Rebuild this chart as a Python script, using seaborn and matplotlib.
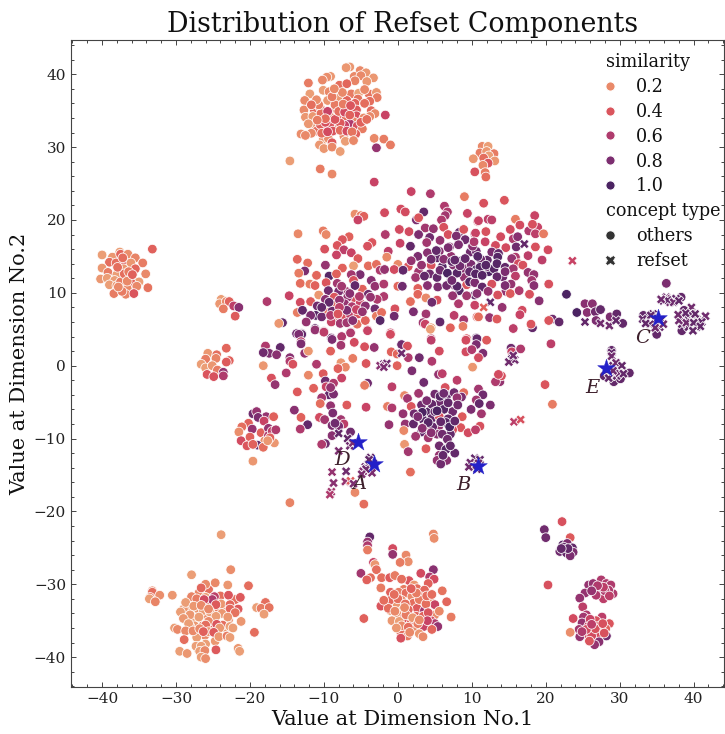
import pandas as pd
import seaborn as sns
import matplotlib.pyplot as plt
from matplotlib.colors import Normalize
from matplotlib.lines import Line2D
from matplotlib.ticker import AutoMinorLocator

# (dim1, dim2, similarity), one list per region
top_cluster = [
    (-6.5,41.0,.15),(-7.0,40.9,.15),(-5.1,40.5,.2),(-4.3,40.2,.15),(-5.9,39.7,.2),(-5.0,39.8,.2),(-3.3,39.5,.15),
    (-4.2,39.0,.15),(-5.8,39.1,.22),(-9.1,39.7,.15),(-9.6,39.6,.18),(-10.2,39.2,.2),(-12.1,38.8,.25),(-7.9,38.5,.3),
    (-6.9,38.7,.33),(-11.9,37.3,.12),(-10.1,37.8,.12),(-9.3,37.6,.2),(-12.6,36.4,.2),(-6.3,37.3,.25),(-5.3,37.4,.1),
    (-3.9,37.3,.28),(-2.9,37.5,.15),(-2.8,36.8,.25),(-8.0,36.7,.15),(-9.5,36.4,.15),(-6.9,36.4,.33),(-5.4,36.6,.28),
    (-3.8,36.3,.3),(-5.8,36.0,.35),(-4.5,36.0,.3),(-12.7,35.1,.2),(-11.3,35.1,.33),(-10.5,35.4,.3),(-8.3,35.2,.2),
    (-6.8,35.1,.22),(-5.6,35.1,.38),(-3.6,35.0,.32),(-3.1,34.6,.2),(-3.8,34.2,.2),(-1.7,34.4,.5),(-12.5,34.1,.15),
    (-11.5,34.2,.15),(-10.4,34.6,.3),(-9.1,34.1,.2),(-7.9,34.2,.35),(-5.6,34.3,.42),(-7.0,33.9,.3),(-6.0,33.5,.2),
    (-6.5,33.2,.6),(-7.2,33.0,.5),(-5.5,32.9,.42),(-4.8,32.5,.25),(-11.5,33.0,.15),(-10.1,32.7,.35),(-8.3,32.4,.28),
    (-9.2,33.0,.4),(-11.0,32.2,.3),(-11.7,31.9,.2),(-13.1,31.8,.18),(-12.5,31.6,.2),(-7.3,31.5,.2),(-5.7,31.8,.35),
    (-10.1,31.0,.15),(-9.4,31.2,.18),(-8.9,30.6,.38),(-10.6,30.3,.15),(-10.0,29.8,.15),(-8.9,30.0,.2),(-7.1,30.8,.12),
    (-3.2,31.2,.2),(-1.9,31.1,.25),(-1.0,30.3,.25),(-2.9,29.9,.7),(-7.8,29.4,.12),(-10.5,33.1,.35),(-9.8,33.4,.42),
    (-7.8,33.3,.38),(-8.5,35.8,.25),(-10.7,35.8,.25),(-9.5,34.9,.5),(-14.6,28.1,.12),(-10.5,27.0,.25),(-8.9,26.3,.2),
    (-3.2,25.2,.5),
]
top_dense = [
    (-8.5,33.8,.4),(-8.0,34.9,.3),(-7.2,34.8,.45),(-6.5,34.4,.35),(-9.8,33.9,.3),(-10.9,33.7,.25),(-8.8,32.2,.4),
    (-7.8,32.3,.3),(-6.9,32.2,.45),(-6.2,32.1,.28),(-10.3,31.9,.3),(-9.5,32.1,.45),(-4.6,34.0,.2),(-5.0,33.4,.35),
    (-4.2,33.8,.3),(-7.4,35.9,.25),(-6.4,35.7,.4),(-8.9,36.9,.25),(-4.5,37.9,.2),(-7.5,37.5,.2),(-8.6,38.0,.2),
    (-11.0,36.5,.18),(-11.7,35.8,.3),(-12.1,33.2,.15),(-6.0,30.9,.2),
]
top_right_cluster = [
    (11.4,30.1,.2),(12.2,30.1,.12),(11.1,29.2,.25),(12.0,29.4,.15),(13.0,29.1,.25),(10.2,28.4,.15),(12.3,28.8,.12),
    (11.6,28.5,.3),(13.1,28.1,.15),(12.2,27.8,.4),(11.5,27.5,.2),(10.4,26.6,.42),(11.8,26.5,.25),(11.9,25.9,.3),
]
left_cluster = [
    (-33.2,16.0,.35),(-37.6,15.6,.12),(-40.0,15.2,.12),(-38.6,14.9,.15),(-37.5,15.3,.33),(-36.5,15.3,.18),(-35.5,14.8,.22),
    (-34.5,14.1,.25),(-37.0,14.2,.38),(-39.0,14.2,.3),(-38.1,14.1,.3),(-36.1,14.1,.15),(-40.0,13.4,.15),(-39.2,12.8,.25),
    (-37.1,13.3,.15),(-35.5,13.3,.33),(-38.0,12.5,.12),(-34.1,12.6,.2),(-36.1,11.9,.33),(-40.2,11.9,.15),(-39.3,12.0,.12),
    (-38.3,11.7,.12),(-35.0,11.5,.12),(-36.0,11.3,.33),(-39.0,11.1,.12),(-38.0,11.0,.15),(-33.8,10.7,.28),(-36.6,10.6,.2),
    (-35.3,10.9,.2),(-38.4,9.9,.25),(-36.8,9.8,.22),(-35.7,9.9,.4),(-37.3,10.2,.25),(-37.5,11.5,.25),(-37.0,12.6,.3),
    (-36.4,12.9,.25),(-37.9,13.5,.3),(-36.6,11.6,.2),(-37.8,10.8,.2),(-35.9,12.5,.35),(-37.2,14.8,.3),
]
small_left = [
    (-23.9,9.1,.12),(-24.1,8.5,.15),(-23.2,8.8,.2),(-22.8,8.8,.35),(-23.6,7.8,.25),(-22.2,8.2,.55),(-21.5,8.0,.75),
    (-22.0,6.8,.38),(-17.7,8.8,.6),(-23.2,2.4,.33),(-25.7,1.7,.15),(-26.0,0.9,.25),(-24.5,1.5,.3),(-24.6,1.0,.22),
    (-22.8,0.7,.35),(-23.2,0.5,.38),(-26.6,0.2,.12),(-26.0,-0.3,.12),(-25.1,0.0,.15),(-24.4,-0.6,.25),(-25.8,-1.2,.4),
    (-24.9,-1.5,.42),(-23.6,-0.9,.7),(-23.6,-1.4,.6),
]
mid_left_cluster = [
    (-19.6,-6.6,.85),(-19.1,-6.3,.7),(-17.8,-7.0,.7),(-20.2,-7.9,.35),(-18.9,-7.1,.8),(-21.1,-8.4,.3),(-18.1,-7.6,.5),
    (-21.5,-9.1,.18),(-18.5,-9.2,.35),(-19.7,-8.7,.7),(-17.5,-8.6,.7),(-21.2,-10.3,.45),(-20.0,-9.8,.35),(-18.0,-10.3,.18),
    (-20.4,-11.0,.4),(-19.0,-10.9,.9),(-19.6,-10.8,.35),(-17.5,-9.6,.6),(-19.6,-13.1,.15),(-18.2,-11.2,.3),(-17.0,-9.0,.55),
    (-16.7,-10.6,.15),(-16.8,-7.0,.35),(-16.5,-8.8,.6),(-17.3,-9.9,.35),(-17.6,-10.3,.15),
]
bottom_left_dense = [
    (-27.0,-33.4,.15),(-25.9,-34.3,.18),(-25.0,-34.9,.25),(-27.5,-34.9,.12),(-26.4,-35.7,.2),(-24.9,-35.6,.25),(-23.5,-33.2,.2),
    (-22.9,-34.9,.18),(-28.3,-33.3,.12),(-25.3,-32.9,.3),(-24.4,-33.3,.25),(-27.5,-35.7,.15),(-25.3,-36.2,.3),(-26.1,-37.0,.2),
    (-24.7,-37.8,.15),(-27.2,-37.3,.12),(-23.5,-35.9,.15),(-29.0,-33.4,.15),(-26.3,-33.6,.12),(-24.0,-31.6,.3),(-26.9,-31.2,.2),
    (-25.6,-30.7,.3),(-22.0,-32.1,.3),(-28.1,-35.8,.15),(-26.5,-39.6,.12),(-27.0,-38.9,.12),
]
bottom_left_cluster = [
    (-23.9,-23.2,.12),(-22.6,-28.0,.18),(-27.9,-28.7,.12),(-26.0,-30.0,.2),(-24.7,-29.8,.2),(-26.6,-30.5,.33),(-23.0,-30.1,.15),
    (-20.2,-30.2,.3),(-33.2,-30.9,.2),(-33.2,-31.1,.3),(-33.5,-31.8,.28),(-33.6,-32.0,.12),(-32.2,-31.5,.18),(-32.8,-32.4,.22),
    (-30.5,-31.5,.15),(-27.9,-31.7,.22),(-26.0,-31.8,.12),(-27.2,-32.0,.25),(-24.8,-31.7,.55),(-25.1,-32.1,.6),(-26.2,-32.1,.45),
    (-22.9,-31.5,.4),(-21.3,-31.8,.38),(-28.7,-32.5,.12),(-23.9,-32.7,.15),(-22.7,-32.8,.33),(-24.6,-32.8,.38),(-17.9,-32.5,.3),
    (-27.6,-33.0,.15),(-26.6,-32.9,.2),(-19.1,-33.2,.12),(-18.5,-33.3,.25),(-17.4,-33.2,.28),(-21.6,-33.4,.38),(-22.7,-33.4,.33),
    (-22.0,-33.9,.28),(-18.1,-34.1,.12),(-29.4,-33.8,.12),(-25.4,-33.8,.12),(-23.8,-34.0,.15),(-25.6,-33.4,.2),(-28.1,-34.2,.15),
    (-26.9,-34.5,.12),(-24.6,-34.4,.12),(-23.0,-34.5,.15),(-29.0,-34.7,.15),(-21.2,-35.1,.15),(-28.3,-35.4,.12),(-25.6,-35.1,.2),
    (-26.0,-35.6,.3),(-23.7,-35.6,.3),(-24.5,-35.5,.4),(-30.2,-36.0,.12),(-29.8,-36.2,.2),(-28.7,-36.4,.2),(-27.7,-36.4,.2),
    (-26.8,-36.1,.2),(-25.6,-36.5,.15),(-24.1,-36.0,.15),(-22.7,-35.8,.12),(-22.3,-36.0,.12),(-24.9,-36.6,.38),(-26.3,-36.5,.35),
    (-19.4,-36.6,.3),(-24.2,-37.2,.15),(-23.1,-37.1,.25),(-22.7,-37.3,.12),(-28.9,-37.6,.3),(-27.3,-38.5,.12),(-26.0,-38.2,.12),
    (-26.6,-38.5,.12),(-21.6,-38.8,.15),(-21.4,-39.2,.12),(-24.6,-39.0,.38),(-29.5,-39.2,.12),(-28.5,-39.5,.15),(-26.8,-39.2,.12),
    (-26.1,-39.1,.2),(-26.6,-40.0,.12),(-26.0,-40.2,.18),
]
bottom_mid_cluster = [
    (-3.8,-23.5,.9),(-4.1,-24.2,.7),(-4.1,-24.7,.6),(-4.1,-25.3,.25),(4.8,-23.1,.2),(4.9,-23.7,.18),(-0.7,-25.1,.45),
    (-0.7,-25.9,.7),(1.1,-26.0,.2),(1.4,-26.9,.18),(0.3,-27.0,.25),(-3.3,-27.0,.5),(-3.1,-27.3,.15),(-2.9,-28.0,.3),
    (-5.0,-28.5,.65),(3.1,-28.5,.45),(4.8,-28.0,.75),(-3.7,-29.1,.3),(-4.2,-29.4,.35),(-2.2,-29.1,.3),(-1.1,-29.1,.38),
    (-0.4,-28.8,.25),(4.3,-29.0,.6),(4.9,-29.3,.45),(1.5,-29.5,.4),(4.1,-29.9,.35),(2.2,-30.1,.15),(2.6,-30.6,.3),
    (3.6,-30.8,.33),(6.0,-30.9,.28),(-2.3,-30.5,.25),(-1.0,-31.1,.35),(0.8,-30.7,.25),(0.1,-31.1,.25),(1.1,-31.2,.3),
    (1.9,-31.7,.2),(3.1,-31.7,.28),(-1.0,-32.2,.33),(0.5,-32.2,.2),(4.3,-32.2,.15),(6.6,-32.4,.33),(-2.3,-33.0,.4),
    (-0.1,-33.0,.15),(2.1,-32.6,.3),(5.0,-32.8,.5),(-1.0,-33.6,.15),(2.6,-33.3,.38),(1.4,-33.5,.33),(3.6,-33.6,.65),
    (0.6,-33.6,.15),(-1.3,-33.3,.3),(-0.1,-34.1,.15),(5.0,-34.2,.2),(-4.6,-34.7,.35),(-0.8,-35.0,.15),(2.5,-34.4,.33),
    (7.2,-34.5,.25),(0.8,-34.7,.4),(0.2,-35.1,.12),(1.8,-35.3,.35),(3.1,-35.4,.35),(4.5,-35.0,.45),(5.0,-35.4,.6),
    (5.4,-35.8,.7),(3.5,-35.8,.5),(2.2,-36.1,.2),(4.6,-36.2,.33),(0.4,-36.6,.3),(1.3,-37.1,.25),(2.9,-36.8,.15),
    (3.4,-37.2,.2),(0.4,-37.4,.42),
]
bottom_mid_dense = [
    (0.0,-32.0,.3),(1.0,-32.7,.3),(2.9,-32.1,.25),(3.8,-32.7,.3),(-0.4,-33.7,.2),(1.1,-34.2,.25),(2.0,-34.6,.15),(3.4,-34.4,.35),
    (4.1,-33.9,.4),(0.5,-35.7,.2),(1.4,-35.9,.3),(2.7,-35.4,.25),(4.0,-35.0,.5),(-1.9,-32.2,.3),(-0.5,-31.4,.3),(2.5,-31.2,.25),
    (3.9,-31.6,.3),(0.9,-33.2,.2),(2.9,-34.9,.2),(1.6,-36.6,.2),(-0.2,-36.0,.15),(5.6,-33.7,.2),(4.6,-31.4,.3),(1.8,-30.6,.35),
    (0.5,-29.3,.3),
]
bottom_right_cluster = [
    (19.8,-22.5,.85),(20.0,-23.6,.85),(22.2,-21.4,.42),(23.3,-23.6,.38),(22.3,-24.6,.95),(22.9,-24.4,.8),(21.9,-25.5,.85),
    (23.6,-25.0,.9),(22.8,-25.7,.9),(23.7,-25.6,.8),(23.3,-26.1,.8),(22.4,-24.9,.9),(20.3,-30.1,.42),(25.8,-30.1,.7),
    (27.5,-29.4,.6),(26.4,-29.9,.7),(28.2,-29.9,.6),(28.8,-30.1,.6),(25.3,-31.2,.7),(24.6,-31.9,.7),(26.9,-30.8,.7),
    (27.5,-30.8,.55),(28.2,-31.5,.55),(29.1,-31.3,.6),(27.1,-31.5,.65),(27.8,-32.0,.55),(28.5,-30.8,.6),(25.0,-33.1,.55),
    (25.5,-34.2,.6),(23.7,-34.7,.45),(25.1,-34.5,.65),(27.6,-34.5,.55),(26.8,-35.0,.42),(24.9,-35.3,.7),(28.6,-35.4,.4),
    (25.8,-35.7,.5),(27.0,-35.8,.42),(28.1,-36.1,.35),(24.5,-36.2,.65),(23.3,-36.6,.18),(25.3,-36.8,.45),(27.2,-36.8,.45),
    (26.2,-37.1,.45),(28.2,-37.1,.85),(24.6,-37.2,.7),(27.2,-37.9,.75),(26.6,-38.3,.7),(26.0,-34.8,.5),(26.7,-36.1,.42),
    (25.5,-36.2,.45),(27.7,-35.4,.42),(24.9,-36.5,.6),(26.2,-35.5,.55),(25.9,-37.8,.4),(27.9,-36.7,.42),(28.0,-30.9,.6),
    (27.8,-30.4,.55),(26.8,-31.5,.6),(27.0,-30.2,.6),(28.6,-31.6,.55),(26.2,-30.9,.7),(23.0,-25.1,.9),(22.1,-25.1,.9),
]
center_upper_left = [
    (1.8,23.9,.5),(4.4,23.6,.6),(9.0,23.2,.25),(6.3,21.9,.6),(-1.8,21.0,.45),(0.4,21.5,.45),(1.0,21.1,.45),(3.5,21.1,.9),
    (2.5,20.0,.8),(2.8,20.3,.4),(-5.8,20.8,.18),(-5.0,20.6,.25),(-4.6,20.5,.35),(-5.4,20.0,.5),(9.4,20.9,.5),(6.7,21.1,.6),
    (6.4,20.6,.65),(5.9,20.0,.6),(10.8,19.8,.45),(-13.5,18.1,.2),(-10.1,18.5,.25),(-9.7,18.0,.2),(3.7,18.9,.65),(4.8,18.8,.7),
    (6.2,19.0,.42),(0.2,18.7,.45),(1.5,18.4,.45),(2.8,18.0,.8),(4.3,17.6,.85),(6.8,18.0,.42),(8.3,18.3,.9),(8.9,18.7,.4),
    (10.4,18.1,.6),(-1.7,18.0,.6),(-6.6,17.7,.35),(-7.5,17.3,.4),(-3.5,16.9,.4),(-8.2,16.5,.4),(-4.1,16.4,.42),(0.3,16.8,.5),
    (1.7,16.4,.9),(3.9,16.9,.65),(5.7,17.2,.7),(9.1,17.3,.85),(8.2,16.7,.7),(7.0,16.3,.75),(-9.9,16.0,.42),(-7.3,15.9,.55),
    (-6.3,15.5,.5),(-1.3,15.7,.55),(2.7,15.0,.8),(4.0,15.5,.75),(5.6,15.7,.75),(9.8,15.6,.85),(10.6,15.7,.85),(-8.3,15.2,.5),
    (-5.4,14.7,.38),(-1.5,14.9,.2),(-13.6,14.6,.33),(5.3,14.8,.9),(7.2,15.0,.7),(8.6,14.4,.95),(-12.2,14.1,.3),(-6.0,13.7,.12),
    (-4.0,13.7,.3),(0.0,13.9,.2),(-9.8,13.8,.7),(1.4,13.6,.4),(4.5,13.8,.42),(6.0,13.6,.95),(7.5,13.8,.75),(-12.6,13.0,.8),
    (-7.5,13.4,.35),(-2.9,13.9,.3),(-2.4,13.1,.6),(-1.8,13.2,.7),(-0.5,13.2,.45),(0.7,13.1,.9),(2.8,12.9,.65),(4.3,12.6,.85),
    (9.0,13.3,.75),(-13.4,12.7,.25),(-11.0,12.4,.33),(-9.3,12.3,.95),(-5.1,12.5,.8),(-8.3,12.6,.35),(-6.3,12.5,.65),(2.4,12.1,.65),
    (5.3,12.1,.9),(7.2,11.8,.95),(10.9,12.5,.85),(9.0,12.1,.7),(-13.2,11.3,.3),(-11.9,11.2,.25),(-11.2,11.0,.35),(-9.7,11.4,.4),
    (-8.2,11.3,.65),(-6.0,11.7,.42),(-3.6,11.7,.75),(-3.1,10.9,.7),(-1.9,11.2,.6),(0.0,10.9,.33),(0.6,10.9,.85),(7.7,11.0,.8),
    (9.3,11.1,.4),(4.0,11.0,.75),(5.4,10.8,.8),(-4.8,10.5,.35),(-7.0,10.2,.65),(-8.0,10.2,.8),(-9.4,10.3,.85),(-5.8,11.0,.9),
    (-14.7,9.6,.5),(-10.7,9.7,.15),(-8.6,9.4,.4),(-4.0,9.8,.85),(-5.9,9.3,.42),(-6.8,9.4,.7),(-1.9,9.5,.6),(2.7,10.6,.35),
    (2.7,9.8,.33),(3.8,9.3,.2),(5.3,9.0,.42),(7.5,9.6,.75),(8.3,10.3,.95),(10.4,9.7,.9),(-13.2,8.7,.45),(-11.8,8.8,.38),
    (-10.9,8.2,.85),(-7.2,8.5,.7),(-5.1,8.6,.5),(-2.8,9.1,.6),(1.7,8.8,.3),(4.6,8.7,.85),(8.2,8.5,.6),(-13.6,7.3,.25),
    (-12.9,7.6,.9),(-9.5,7.3,.3),(-8.6,8.3,.35),(-3.1,7.8,.85),(-0.4,7.8,.42),(-11.1,6.9,.95),(-11.8,6.9,.8),(-10.3,6.7,.85),
    (-8.3,6.9,.42),(-7.4,6.8,.42),(-6.4,6.9,.55),(-5.4,7.1,.4),(-2.9,6.8,.25),(-2.2,7.3,.3),(-0.5,6.8,.85),(2.1,7.4,.8),
    (3.8,7.1,.65),(7.6,6.9,.55),(8.9,6.3,.65),(10.7,6.7,.38),(-12.4,6.0,.7),(-9.0,6.0,.5),(-7.8,5.8,.65),(-6.9,5.9,.65),
    (-5.5,5.7,.3),(-4.4,6.2,.35),(-2.4,6.2,.95),(-15.6,5.9,.9),(-16.1,5.8,.15),(3.4,5.9,.65),(3.7,5.7,.5),(5.7,6.0,.9),
    (8.8,5.4,.25),(-11.2,5.1,.9),(-10.0,4.7,.55),(-6.4,4.6,.6),(-4.1,4.9,.5),(-1.0,4.5,.5),(4.5,5.2,.12),(7.1,5.2,.35),
    (-13.7,4.4,.85),(-13.0,4.4,.95),(-9.0,3.8,.85),(-7.6,3.9,.6),(4.5,3.7,.55),(10.6,3.8,.9),(9.3,3.7,.42),
]
center_upper_dense = [
    (-7.9,9.0,.7),(-6.2,8.1,.6),(-5.6,7.7,.5),(-8.9,7.5,.85),(-9.8,9.1,.75),(-7.6,10.9,.65),(-6.9,7.6,.8),(-4.4,8.2,.75),
    (-9.1,6.9,.6),(-4.8,7.4,.7),(-7.9,8.0,.55),(-6.5,9.9,.75),(-8.1,7.1,.4),(-9.3,8.7,.9),(-10.3,8.0,.9),(-5.2,9.5,.6),
    (-3.7,9.4,.7),(-6.1,6.2,.75),(5.7,13.1,.85),(6.7,12.7,1.0),(8.0,12.7,.95),(8.4,13.7,.85),(9.9,13.9,.8),(10.6,13.2,.95),
    (12.3,12.9,1.0),(12.1,13.6,.85),(9.7,12.9,.9),(12.1,14.5,.9),(11.2,14.6,.85),(13.0,13.3,.95),(9.7,11.5,.95),(10.4,11.4,.8),
    (8.0,10.9,.95),(6.6,11.0,.85),(6.2,14.6,.75),(7.3,14.3,.9),(5.2,15.8,.9),(4.5,14.6,.85),(3.2,13.8,.7),(3.6,12.3,.9),
    (1.8,14.4,.7),(6.8,16.2,.8),(7.9,17.8,.8),(10.1,16.4,.75),(10.8,15.0,.95),(9.1,14.7,.9),(14.2,12.2,.85),(14.6,10.2,.7),
]
center_upper_right = [
    (11.6,22.3,.42),(14.4,22.7,.4),(12.2,20.1,.55),(12.7,20.0,.55),(10.9,19.9,.5),(18.5,20.6,.5),(15.9,20.1,.25),(16.5,19.3,.45),
    (15.2,18.7,.45),(17.7,18.5,.6),(18.9,19.0,.5),(18.2,19.4,.42),(18.6,18.1,.55),(19.7,18.1,.25),(10.5,18.2,.5),(11.9,18.4,.42),
    (13.9,17.7,.45),(15.6,17.4,.6),(16.2,17.7,.75),(8.2,16.6,.8),(10.3,17.0,.6),(11.8,17.0,.5),(13.2,16.5,.45),(14.6,16.2,.45),
    (16.0,16.3,.85),(18.6,16.3,.42),(20.3,15.9,.45),(12.7,15.6,.8),(13.6,15.4,.9),(17.6,15.1,.55),(15.9,14.9,.6),(19.5,14.5,.55),
    (13.5,14.9,.95),(15.4,14.7,.7),(16.3,14.0,.45),(7.7,14.5,.9),(11.1,13.5,.95),(11.9,13.8,.95),(13.4,14.0,.95),(14.5,13.5,.9),
    (15.6,13.3,.65),(16.9,13.8,.42),(10.5,12.6,.95),(11.4,12.4,.95),(13.4,12.2,.9),(14.5,12.9,.8),(15.9,12.3,.55),(17.6,12.8,.7),
    (18.4,12.5,.7),(7.3,11.7,.85),(12.7,11.2,.42),(11.4,10.8,.9),(15.3,11.2,.7),(18.1,11.7,.65),(18.4,11.0,.75),(20.4,11.2,.42),
    (7.4,9.6,.7),(9.3,9.6,.65),(10.7,9.9,.75),(12.2,10.2,.7),(13.5,9.7,.42),(14.5,11.0,.8),(15.2,9.9,.38),(16.4,10.3,.6),
    (17.8,9.8,.42),(22.8,9.8,1.0),(10.4,8.3,.5),(14.1,8.0,.7),(19.1,8.9,.75),(16.8,7.6,.45),(16.5,7.0,.5),(10.9,6.7,.3),
    (12.4,6.6,.7),(13.4,6.4,.38),(20.9,6.4,.85),(21.8,6.0,.9),(20.4,6.2,.4),(15.6,5.1,.55),(18.2,5.2,.9),(18.0,5.7,.4),
    (24.2,7.3,1.0),(25.3,8.5,.75),(26.3,8.5,.75),(25.6,7.3,.75),(26.7,7.4,.85),(27.4,7.7,.9),(26.8,6.2,.8),(28.7,6.7,.8),
    (29.6,7.1,.9),(30.4,5.8,.9),(36.3,11.3,.8),(33.2,6.9,.9),(35.0,4.3,.9),(38.3,9.4,.9),(38.7,7.6,.9),(38.4,4.8,.9),
    (28.9,2.1,.9),(27.9,-1.4,.9),(29.2,-2.2,.9),(31.3,-1.0,.9),(30.1,-1.8,.9),(15.3,2.4,.85),(15.4,1.9,.5),(16.6,2.3,.6),
    (20.7,3.0,.55),(19.9,-2.6,.4),(20.9,-5.3,.25),(13.8,-2.2,.7),(14.0,-1.4,.42),
]
center_lower = [
    (-17.9,2.7,.6),(-15.9,2.5,.9),(-17.4,1.7,.8),(-18.2,1.8,.85),(-16.4,1.5,.75),(-14.6,1.1,.75),(-14.6,0.6,.6),(-14.2,0.2,.42),
    (-18.2,0.0,.15),(-15.1,-1.0,.6),(-17.1,-1.7,.42),(-16.6,-2.6,.7),(-12.1,-1.3,.2),(-13.6,-3.6,.38),(-11.4,-3.1,.35),(-13.0,4.3,.9),
    (-13.4,4.3,.8),(-13.1,3.3,.55),(-13.1,3.0,.8),(-11.2,4.9,.7),(-10.0,4.6,.55),(-8.9,3.6,.8),(-7.6,4.0,.6),(-7.7,2.8,.65),
    (-6.4,4.5,.6),(-5.9,3.2,.45),(-4.1,4.8,.5),(-4.5,2.6,.42),(-3.2,2.5,.7),(-12.6,1.7,.7),(-12.1,2.0,.15),(-9.1,2.0,.35),
    (-11.0,0.2,.6),(-6.1,1.0,.25),(-7.7,0.4,.15),(-7.1,-0.2,.2),(-8.1,-0.4,.35),(-4.3,0.3,.4),(-10.1,-1.1,.38),(-7.6,-1.7,.5),
    (-9.8,-2.1,.85),(-8.7,-2.4,.6),(-9.7,-2.9,.5),(-4.1,-2.4,.85),(-4.5,-2.7,.25),(-1.0,4.3,.45),(0.5,2.9,.85),(1.3,2.7,.42),
    (-0.9,1.9,.35),(-0.1,1.6,.33),(1.4,1.1,.6),(2.9,1.1,.85),(-0.1,0.0,.35),(1.9,-0.7,.8),(4.6,0.6,.6),(4.5,3.5,.55),
    (5.6,2.0,.45),(4.4,5.0,.12),(9.2,3.5,.45),(10.7,3.7,.9),(12.0,3.5,.38),(10.6,2.9,.8),(9.2,1.9,.45),(10.0,2.2,.6),
    (11.5,1.7,.8),(10.9,1.1,.45),(10.1,-0.2,.15),(5.5,-1.2,.7),(6.0,-1.1,.55),(3.5,-2.3,.85),(8.0,-2.0,.55),(13.2,-2.2,.6),
    (13.6,-1.2,.45),(-0.8,-2.9,.55),(0.9,-4.1,.2),(1.3,-4.5,.65),(2.8,-3.8,.65),(5.0,-3.9,.85),(6.4,-3.0,.42),(6.6,-4.1,.9),
    (7.6,-3.7,.85),(8.9,-3.7,.3),(8.6,-4.3,.8),(8.0,-4.4,.7),(10.9,-3.2,.65),(11.5,-4.0,.85),(10.6,-4.7,.65),(11.0,-5.2,.9),
    (9.9,-6.0,.8),(12.5,-5.4,.8),(11.3,-6.6,.65),(3.2,-5.4,.85),(1.8,-5.6,.4),(0.7,-6.6,.7),(4.2,-6.3,.95),(5.7,-5.0,.85),
    (7.4,-6.3,.85),(4.6,-5.3,.9),(6.2,-6.0,.95),(3.4,-7.4,.95),(4.6,-7.2,.9),(5.6,-7.0,.42),(6.8,-7.3,.9),(8.7,-7.0,.38),
    (1.0,-8.0,.7),(2.1,-8.0,.9),(3.6,-8.4,.45),(5.5,-8.4,.7),(6.5,-7.8,.95),(8.5,-8.5,.4),(11.1,-8.3,.42),(7.4,-8.8,.42),
    (-1.2,-8.1,.7),(0.8,-8.9,.2),(3.2,-9.1,.9),(2.4,-9.7,.65),(4.1,-9.9,.65),(5.3,-9.4,.75),(7.1,-9.4,.9),(9.5,-9.2,.45),
    (10.5,-8.8,.55),(0.9,-10.8,.15),(5.6,-11.0,.85),(6.5,-11.5,.95),(3.8,-11.4,.38),(1.4,-11.8,.65),(7.7,-12.0,.9),(5.6,-12.3,.7),
    (6.6,-13.0,.75),(5.3,-13.0,.7),(5.8,-13.5,.85),(1.7,-14.6,.3),(-1.4,-5.6,.25),(-0.8,-5.8,.6),(-4.3,-5.7,.5),(-9.3,-4.0,.9),
    (-10.3,-4.4,.65),(-10.5,-5.2,.3),(-9.1,-5.5,.7),(-8.7,-3.9,.8),(-6.9,-5.4,.38),(-14.0,-6.1,.75),(-8.8,-6.5,.8),(-13.1,-7.1,.35),
    (-10.6,-7.1,.45),(-9.9,-7.4,.65),(-7.7,-7.4,.65),(-8.9,-8.2,.8),(-12.2,-8.1,.9),(-13.2,-8.7,.6),(-7.3,-8.0,.55),(-8.0,-8.3,.8),
    (-6.4,-9.1,.85),(-8.9,-9.6,.75),(-9.8,-10.7,.85),(-10.3,-10.8,.6),(-5.8,-17.4,.2),(-14.6,-18.8,.22),(-4.6,-19.0,.3),
]
center_lower_dense = [
    (3.3,-6.4,1.0),(5.0,-6.3,.9),(6.8,-5.1,.9),(3.9,-4.8,.8),(5.7,-4.2,.95),(2.2,-6.6,.85),(7.0,-8.4,1.0),(4.7,-8.4,.9),
    (6.0,-9.4,.85),(4.1,-7.8,.95),(5.3,-6.2,1.0),(2.7,-7.0,.8),(7.7,-7.6,.9),(6.7,-10.1,.85),(5.8,-7.7,.9),(7.1,-11.0,.9),
    (6.1,-12.3,.9),(8.1,-5.4,.85),(3.3,-8.6,.75),(6.2,-3.8,.85),(4.5,-9.2,.75),(-8.5,-7.9,.85),(-9.1,-3.0,.7),
]
refset_points = [
    (17.1,16.7,.9),(23.6,14.4,.5),(12.5,8.7,.9),(11.6,8.0,.35),(25.3,6.0,.9),(27.4,5.8,.85),(28.6,5.5,.85),(29.5,6.2,.9),
    (33.1,6.4,.9),(34.5,7.1,.9),(34.9,6.2,.9),(35.4,5.3,.9),(34.1,5.7,.9),(35.9,8.9,.9),(36.3,9.4,.85),(37.0,9.2,.8),
    (37.6,9.2,.9),(36.8,8.7,.85),(39.7,8.0,.85),(38.6,6.6,.9),(39.3,6.4,.9),(40.4,6.4,.9),(41.6,6.8,.85),(38.4,5.7,.9),
    (39.3,5.3,.9),(40.4,5.3,.9),(41.1,6.0,.9),(39.7,7.1,.9),(28.9,1.8,.9),(28.9,1.3,.85),(29.4,-0.2,.85),(30.0,-0.5,.85),
    (28.9,-1.2,.9),(29.6,-1.4,.9),(29.1,0.0,.9),(15.4,0.9,.95),(15.8,0.8,.85),(15.7,-7.7,.55),(16.6,-7.4,.42),(0.5,1.7,.85),
    (-1.9,0.2,.85),(-1.5,0.3,.85),(-2.4,0.0,.75),(10.4,-12.7,.9),(11.1,-12.9,.9),(10.0,-13.5,.9),(10.7,-14.2,.9),(9.8,-13.3,.85),
    (-8.0,-9.3,.9),(-6.8,-10.0,.9),(-6.5,-11.0,.85),(-6.1,-10.6,.8),(-8.0,-11.7,.8),(-8.9,-14.6,.7),(-7.0,-14.5,.85),(-8.7,-16.1,.75),
    (-7.1,-15.9,.7),(-6.4,-15.8,.38),(-9.0,-17.3,.65),(-9.2,-17.7,.6),(-6.0,-16.2,.8),(-3.7,-12.6,.9),(-4.4,-13.9,.85),(-3.5,-14.7,.8),
    (-4.0,-13.5,.85),(-4.7,-14.5,.75),(34.2,6.9,.9),(35.6,6.3,.9),(34.8,5.2,.85),(33.5,5.8,.9),(35.9,5.7,.85),(36.5,9.0,.9),
    (37.3,8.7,.85),(38.0,8.9,.9),(35.6,9.1,.85),(38.9,7.2,.9),(39.0,5.9,.85),(40.2,7.1,.9),(40.0,5.9,.9),(38.0,6.2,.85),
    (40.9,5.4,.9),(37.9,7.0,.85),(39.9,4.8,.9),(29.5,0.4,.85),(28.4,-0.7,.9),(30.3,0.0,.9),(29.9,-1.0,.85),(30.5,-1.1,.9),
    (28.5,-1.7,.9),(29.1,-0.7,.85),(10.9,-13.4,.85),(10.4,-13.9,.9),(9.6,-13.9,.85),(-4.3,-14.2,.85),(-3.3,-13.4,.85),(-3.9,-12.9,.9),
    (-4.9,-14.9,.8),(15.0,0.5,.85),(15.6,1.4,.85),(-1.9,-0.2,.8),
]

star_x = [-3.2, 10.9, 35.2, -5.4, 28.2]
star_y = [-13.5, -13.8, 6.6, -10.5, -0.3]
star_names = ['A', 'B', 'C', 'D', 'E']
name_x = [-5.2, 8.9, 33.2, -7.4, 26.4]
name_y = [-16.2, -16.4, 3.8, -13.0, -3.0]

legend_levels = [0.2, 0.4, 0.6, 0.8, 1.0]
legend_types = ['others', 'refset']

# the dense lists of the pale clusters go first so the paler marks stay on top
others = (top_cluster + top_dense + top_right_cluster + left_cluster + small_left + mid_left_cluster + bottom_left_dense
          + bottom_left_cluster + bottom_mid_cluster + bottom_mid_dense + bottom_right_cluster + center_upper_left
          + center_upper_dense + center_upper_right + center_lower + center_lower_dense)

df = pd.DataFrame(others + refset_points, columns=['dim1', 'dim2', 'similarity'])
df['concept type'] = ['others'] * len(others) + ['refset'] * len(refset_points)

sns.set_style("ticks")
plt.rcParams['font.family'] = ['DejaVu Serif']
plt.rcParams['mathtext.fontset'] = 'dejavuserif'
plt.rcParams['text.color'] = '#111111'
plt.rcParams['axes.labelcolor'] = '#111111'
plt.rcParams['xtick.labelcolor'] = '#222222'
plt.rcParams['ytick.labelcolor'] = '#222222'

fig = plt.figure(figsize=(7.25, 7.34), dpi=100)
ax = fig.add_axes([71 / 725, 1 - 687 / 734, 653 / 725, 647 / 734])

hue_norm = Normalize(0.05, 1.0)
sns.scatterplot(
    data=df, x='dim1', y='dim2', hue='similarity', style='concept type',
    palette='flare', hue_norm=hue_norm, markers=['o', 'X'], s=48, legend=False, ax=ax
)
sns.scatterplot(x=star_x, y=star_y, marker='*', s=180, color='#2320c8', edgecolor='#2320c8', linewidth=0.3, legend=False, ax=ax)

for name, tx, ty in zip(star_names, name_x, name_y):
    ax.text(tx, ty, f'${name}$', fontsize=14, color='#3d1f2b', ha='center', va='center')

ax.set_xlim(-44.2, 44.1)
ax.set_ylim(-44.1, 44.7)
ax.set_title('Distribution of Refset Components', fontsize=19.3, pad=6, x=0.507)
ax.set_xlabel('Value at Dimension No.1', fontsize=15, labelpad=3, x=0.507)
ax.set_ylabel('Value at Dimension No.2', fontsize=15, labelpad=3)

ax.xaxis.set_minor_locator(AutoMinorLocator(5))
ax.yaxis.set_minor_locator(AutoMinorLocator(5))
ax.tick_params(which='both', direction='in', top=True, right=True, color='#444444', width=0.7)
ax.tick_params(which='major', length=3.8, labelsize=11)
ax.tick_params(which='minor', length=2)
for spine in ax.spines.values():
    spine.set_linewidth(0.8)
    spine.set_color('#444444')

cmap = sns.color_palette('flare', as_cmap=True)
handles = [Line2D([], [], visible=False)]
labels = ['similarity']
for level in legend_levels:
    handles.append(Line2D([], [], ls='', marker='o', ms=6.6, mfc=cmap(hue_norm(level)), mec='white', mew=0.7))
    labels.append(f'{level:.1f}')
handles.append(Line2D([], [], visible=False))
labels.append('concept type')
for kind, mark, size in zip(legend_types, ['o', 'X'], [6.6, 7.6]):
    handles.append(Line2D([], [], ls='', marker=mark, ms=size, mfc='#333333', mec='white', mew=0.5))
    labels.append(kind)

leg = ax.legend(handles, labels, loc='upper left', bbox_to_anchor=((606 - 71) / 653, (687 - 53) / 647), frameon=False,
                fontsize=12.7, labelspacing=0.39, borderaxespad=0, borderpad=0, handlelength=0.4, handletextpad=1.3)
# subtitle rows start at the left edge, without the handle gap
for column in leg._legend_handle_box.get_children():
    for row in column.get_children():
        draw_area = row.get_children()[0]
        if not draw_area.get_children()[0].get_visible():
            draw_area.set_width(0)
            row.sep = 0

plt.savefig('out.png', dpi=100)
